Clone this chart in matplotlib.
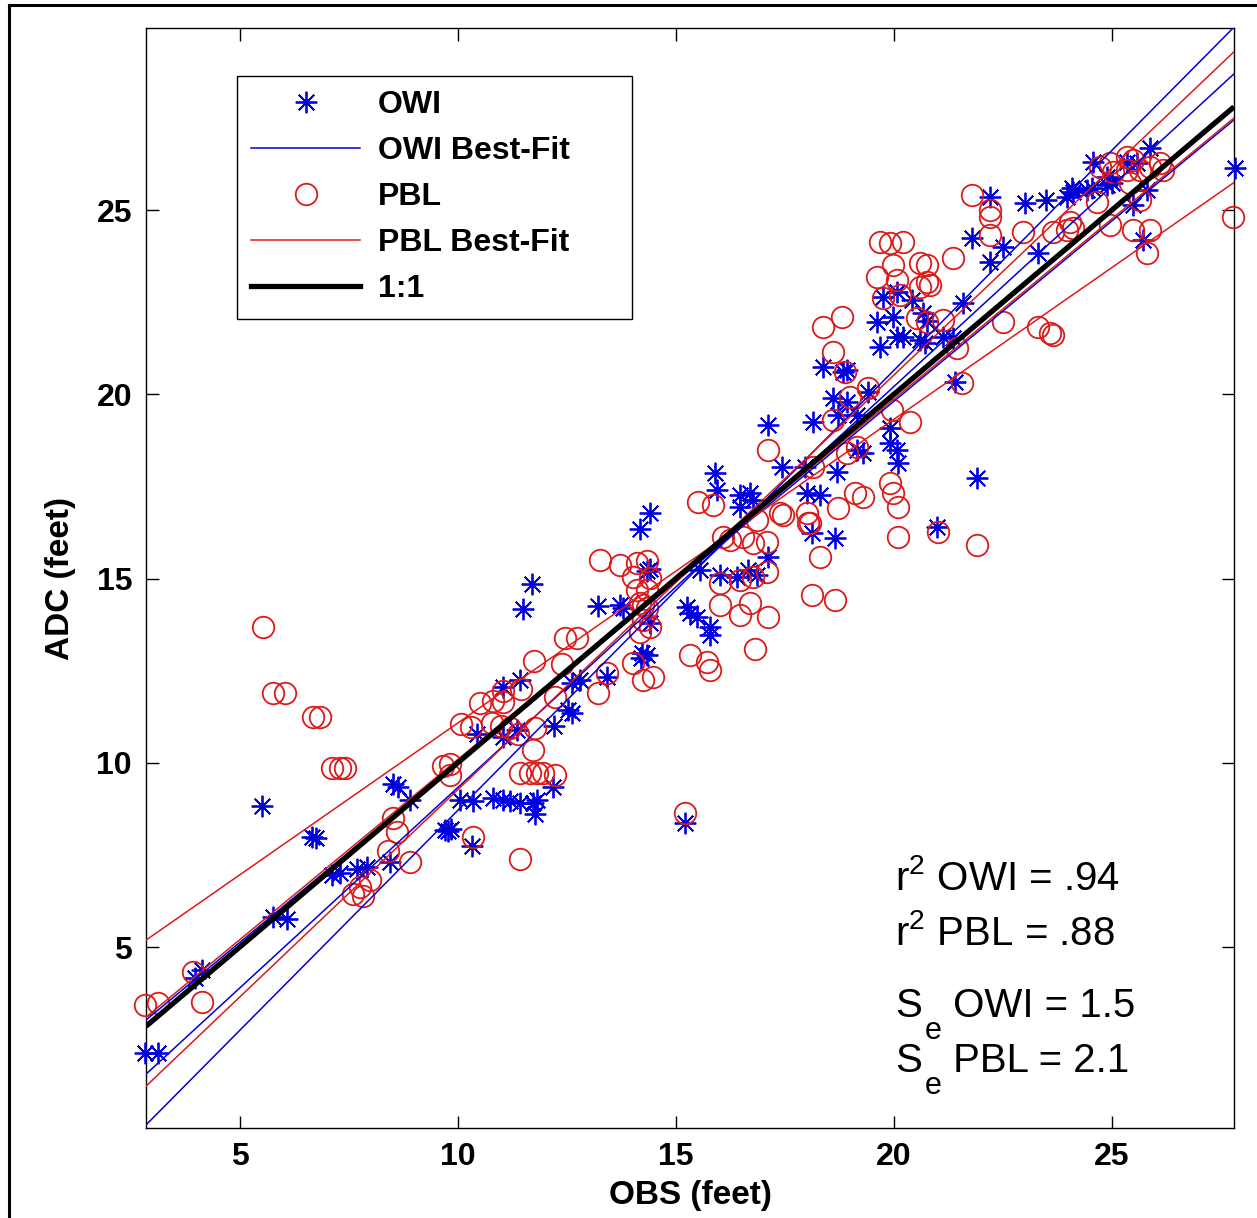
import matplotlib
matplotlib.use("Agg")
import matplotlib.pyplot as plt
from matplotlib.lines import Line2D
from matplotlib.transforms import IdentityTransform
import numpy as np

plt.rcParams['font.family'] = ['Liberation Sans', 'DejaVu Sans']
plt.rcParams['mathtext.fontset'] = 'custom'
plt.rcParams['mathtext.rm'] = 'Liberation Sans'
plt.rcParams['mathtext.it'] = 'Liberation Sans'

# ---------------- data ----------------
owi_obs = [2.82, 3.12, 4.13, 3.97, 5.5, 5.76, 6.08, 6.65, 6.75, 7.11, 7.29, 7.68, 7.91, 8.44,
           8.51, 8.62, 8.9, 9.7, 9.78, 9.85, 10.32, 10.05, 10.34, 10.8, 11.03, 11.19, 11.42,
           11.72, 11.81, 11.77, 12.18, 12.2, 11.03, 11.42, 10.44, 11.03, 11.35, 11.49, 11.7,
           13.21, 13.72, 13.79, 14.33, 14.4, 14.4, 14.17, 14.22, 14.33, 14.2, 14.4, 12.52, 12.61,
           13.42, 12.8, 12.61, 18.0, 18.3, 18.65, 15.25, 15.32, 15.48, 15.78, 15.78, 15.94,
           16.47, 16.7, 16.77, 16.47, 15.55, 16.01, 16.4, 16.65, 16.86, 17.11, 15.21, 22.2,
           23.0, 23.5, 23.97, 24.1, 24.08, 24.56, 24.89, 25.0, 25.34, 25.57, 25.87, 25.8, 24.54,
           24.89, 24.43, 25.71, 25.48, 27.82, 21.79, 22.5, 22.2, 23.3, 21.58, 19.75, 20.07,
           20.41, 19.61, 19.98, 20.67, 20.76, 19.68, 20.07, 20.2, 20.6, 20.71, 21.12, 21.35,
           18.37, 18.83, 18.92, 19.4, 18.6, 18.92, 18.72, 19.15, 18.14, 17.43, 17.96, 18.69,
           19.91, 19.91, 20.07, 20.09, 19.29, 19.15, 21.9, 21.4, 20.99, 18.12, 17.11, 15.9]
owi_adc = [2.12, 2.12, 4.38, 4.16, 8.83, 5.81, 5.76, 8.0, 7.95, 6.95, 7.0, 7.12, 7.17, 7.31,
           9.42, 9.34, 8.99, 8.18, 8.15, 8.2, 7.74, 8.99, 8.96, 9.04, 8.99, 8.96, 8.91,
           8.91, 8.99, 8.61, 9.34, 11.0, 12.06, 12.25, 10.78, 10.7, 10.89, 14.17, 14.85,
           14.26, 14.28, 14.2, 15.2, 15.25, 16.78, 16.35, 12.98, 12.92, 12.85, 13.79, 11.43, 11.35,
           12.33, 12.25, 12.17, 17.32, 17.27, 16.1, 14.22, 14.06, 13.95, 13.68, 13.47, 17.4,
           17.27, 17.32, 17.13, 16.94, 15.23, 15.1, 15.04, 15.23, 15.1, 15.58, 8.36, 25.35,
           25.2, 25.27, 25.35, 25.49, 25.6, 26.3, 25.9, 25.73, 26.3, 26.28, 26.68, 25.54, 25.6,
           25.68, 25.54, 24.19, 25.14, 26.14, 24.24, 24.0, 23.59, 23.83, 22.48, 22.64, 22.77,
           22.56, 21.96, 22.1, 22.2, 22.0, 21.28, 21.55, 21.55, 21.47, 21.39, 21.55, 21.53,
           20.74, 20.6, 20.66, 20.06, 19.9, 19.79, 19.44, 19.44, 19.25, 18.03, 18.03, 17.89,
           19.08, 18.68, 18.49, 18.14, 18.41, 18.49, 17.73, 20.33, 16.4, 16.23, 19.17, 17.86]

pbl_obs = [2.82, 3.12, 3.92, 4.13, 5.53, 5.76, 6.03, 6.67, 6.83, 7.11, 7.29, 7.41, 7.59, 7.82,
           7.75, 7.98, 8.39, 8.6, 8.51, 8.9, 9.82, 9.66, 9.82, 10.34, 11.42, 10.08, 10.3, 10.5,
           10.78, 10.8, 11.03, 11.0, 11.19, 11.38, 11.03, 11.45, 11.77, 11.72, 11.74, 12.38,
           12.45, 12.73, 12.22, 11.42, 11.65, 11.82, 11.95, 12.22, 13.21, 13.42, 13.26, 13.72,
           14.1, 14.33, 14.01, 14.4, 14.1, 14.33, 14.17, 14.24, 14.33, 14.24, 14.4, 14.17, 14.01,
           14.24, 14.47, 15.32, 15.71, 15.78, 16.81, 16.01, 16.47, 16.7, 17.11, 18.12, 18.65,
           18.3, 15.5, 15.85, 16.08, 16.24, 16.54, 16.77, 17.09, 16.86, 17.39, 18.0, 18.07,
           16.01, 16.47, 16.77, 17.09, 15.21, 21.79, 22.2, 22.2, 22.2, 22.96, 23.65, 24.04,
           24.1, 23.97, 24.66, 24.95, 25.48, 25.87, 25.8, 24.72, 24.95, 25.34, 25.48, 25.02,
           25.34, 25.64, 25.87, 26.17, 26.1, 25.64, 25.41, 22.5, 23.3, 23.58, 23.65, 27.78,
           21.35, 19.68, 19.91, 20.21, 19.98, 20.6, 20.76, 19.61, 20.07, 20.76, 20.83, 19.75,
           20.14, 20.6, 20.53, 20.76, 21.12, 18.37, 18.81, 18.6, 18.88, 19.4, 18.99, 18.6,
           19.15, 18.92, 19.95, 20.37, 21.44, 21.56, 17.45, 18.03, 18.72, 19.1, 19.29, 19.91,
           19.98, 20.09, 20.09, 21.01, 21.9, 18.14, 17.11]
pbl_adc = [3.43, 3.48, 4.32, 3.51, 13.68, 11.89, 11.89, 11.24, 11.24, 9.86, 9.86, 9.86, 6.44, 6.38,
           6.63, 6.82, 7.6, 8.12, 8.5, 7.31, 9.97, 9.91, 9.67, 7.98, 7.39, 11.05, 10.98, 11.62,
           11.08, 11.68, 11.66, 11.0, 10.94, 10.78, 11.95, 12.0, 10.94, 10.35, 12.76, 12.68,
           13.4, 13.4, 11.79, 9.72, 9.72, 9.72, 9.72, 9.67, 11.9, 12.44, 15.5, 15.36,
           15.42, 15.47, 15.04, 15.01, 14.69, 14.69, 14.34, 14.28, 14.2, 13.87, 13.68, 13.55, 12.71,
           12.25, 12.33, 12.92, 12.73, 12.52, 13.1, 14.28, 14.01, 14.34, 13.95, 14.55, 14.42,
           15.58, 17.08, 17.0, 16.13, 16.05, 16.13, 15.97, 15.99, 16.59, 16.78, 16.78, 16.51,
           14.88, 14.96, 15.04, 15.18, 8.64, 25.41, 25.0, 24.81, 24.32, 24.4, 24.4, 24.67,
           24.51, 24.46, 25.22, 24.59, 24.46, 24.46, 23.83, 26.17, 26.28, 26.44, 26.36, 26.03,
           26.09, 26.09, 26.17, 26.09, 26.28, 25.27, 25.73, 21.96, 21.82, 21.66, 21.6, 24.81,
           23.7, 24.13, 24.1, 24.13, 23.51, 23.56, 23.51, 23.18, 23.1, 23.05, 22.96, 22.61,
           22.69, 22.91, 22.07, 21.96, 22.01, 21.82, 22.1, 21.15, 20.6, 20.17, 19.93, 19.3,
           18.57, 18.41, 19.57, 19.25, 21.26, 20.31, 16.72, 16.51, 16.91, 17.32, 17.21, 17.59,
           17.32, 16.94, 16.13, 16.26, 15.91, 18.03, 18.49]

# regression lines: (slope, intercept); best fit first, then the two bounds
owi_fit = (1.088, -1.55)
owi_bounds = [(1.194, -3.23), (0.979, 0.23)]
pbl_fit = (0.978, 0.31)
pbl_bounds = [(1.125, -1.98), (0.824, 2.84)]

x_ticks = [5, 10, 15, 20, 25]
y_ticks = [5, 10, 15, 20, 25]
r2_lines = [r'r$^{2}$ OWI = .94', r'r$^{2}$ PBL = .88']
se_lines = [' OWI = 1.5', ' PBL = 2.1']

# ---------------- figure ----------------
W, H = 1257, 1218
fig = plt.figure(figsize=(W / 100, H / 100), dpi=100)
ax = fig.add_axes([146 / W, 1 - 1128 / H, (1234 - 146) / W, (1128 - 28) / H])

xlim = (2.85, 27.8)
ylim = (0.09, 29.94)

BLUE = '#0000dd'
RED = '#dd1a1a'

star = (8, 2, 0)
ax.plot(owi_obs, owi_adc, linestyle='none', marker=star, markersize=15.5,
        markeredgewidth=1.3, color=BLUE, clip_on=False, zorder=3)
ax.plot(pbl_obs, pbl_adc, linestyle='none', marker='o', markersize=15.5,
        markerfacecolor='none', markeredgewidth=1.3, markeredgecolor=RED,
        clip_on=False, zorder=3)

xx = np.array(xlim)
for (m, b) in [owi_fit] + owi_bounds:
    ax.plot(xx, m * xx + b, color=BLUE, lw=1.1, zorder=4)
for (m, b) in [pbl_fit] + pbl_bounds:
    ax.plot(xx, m * xx + b, color=RED, lw=1.1, zorder=4)
ax.plot(xx, xx, color='black', lw=3.8, zorder=5, solid_capstyle='butt')

ax.set_xlim(*xlim)
ax.set_ylim(*ylim)
ax.set_xticks(x_ticks)
ax.set_yticks(y_ticks)
ax.tick_params(direction='in', length=9, width=1.0, top=True, right=True,
               labelsize=23, pad=10)
for lab in ax.get_xticklabels() + ax.get_yticklabels():
    lab.set_fontweight('bold')
for s in ax.spines.values():
    s.set_linewidth(1.0)

ax.set_xlabel('OBS (feet)', fontsize=24, fontweight='bold', labelpad=6)
ax.set_ylabel('ADC (feet)', fontsize=24, fontweight='bold', labelpad=15)

# legend
handles = [
    Line2D([], [], linestyle='none', marker=star, markersize=15.5, markeredgewidth=1.3, color=BLUE),
    Line2D([], [], color=BLUE, lw=1.1),
    Line2D([], [], linestyle='none', marker='o', markersize=15.5, markerfacecolor='none',
           markeredgewidth=1.3, markeredgecolor=RED),
    Line2D([], [], color=RED, lw=1.1),
    Line2D([], [], color='black', lw=3.8),
]
labels = ['OWI', 'OWI Best-Fit', 'PBL', 'PBL Best-Fit', '1:1']
lx0 = (237 - 146) / 1088
lx1 = (632 - 146) / 1088
ly1 = 1 - (76 - 28) / 1100
leg = ax.legend(handles, labels, loc='upper left', mode='expand',
                bbox_to_anchor=(lx0, ly1 - 0.3, lx1 - lx0, 0.3),
                borderaxespad=0, fancybox=False, framealpha=1, edgecolor='black',
                prop={'weight': 'bold', 'size': 23}, handlelength=3.4,
                handletextpad=0.55, labelspacing=0.5, borderpad=0.45)
leg.get_frame().set_linewidth(1.0)

# statistics text
stat_x = 20.02
r2_y = [6.55, 5.05]
for txt, yv in zip(r2_lines, r2_y):
    ax.text(stat_x, yv, txt, fontsize=29, ha='left', va='baseline', zorder=6)

fig.canvas.draw()
rend = fig.canvas.get_renderer()
se_y = [3.1, 1.6]
for txt, yv in zip(se_lines, se_y):
    tS = ax.text(stat_x, yv, 'S', fontsize=29, ha='left', va='baseline', zorder=6)
    bb = tS.get_window_extent(rend)
    base = ax.transData.transform((stat_x, yv))[1]
    tE = ax.text(bb.x1 + 3, base + 1, 'e', fontsize=22, ha='left', va='top',
                 transform=IdentityTransform(), zorder=6)
    bbe = tE.get_window_extent(rend)
    ax.text(bbe.x1 + 1, base, txt, fontsize=29, ha='left', va='baseline',
            transform=IdentityTransform(), zorder=6)

# outer frame of the figure
fx = 9 / W
fy = 1 - 5 / H
fig.add_artist(Line2D([fx, fx], [0, fy], color='black', lw=2.2, transform=fig.transFigure))
fig.add_artist(Line2D([fx, 1], [fy, fy], color='black', lw=2.2, transform=fig.transFigure))

fig.savefig('out.png', dpi=100)
